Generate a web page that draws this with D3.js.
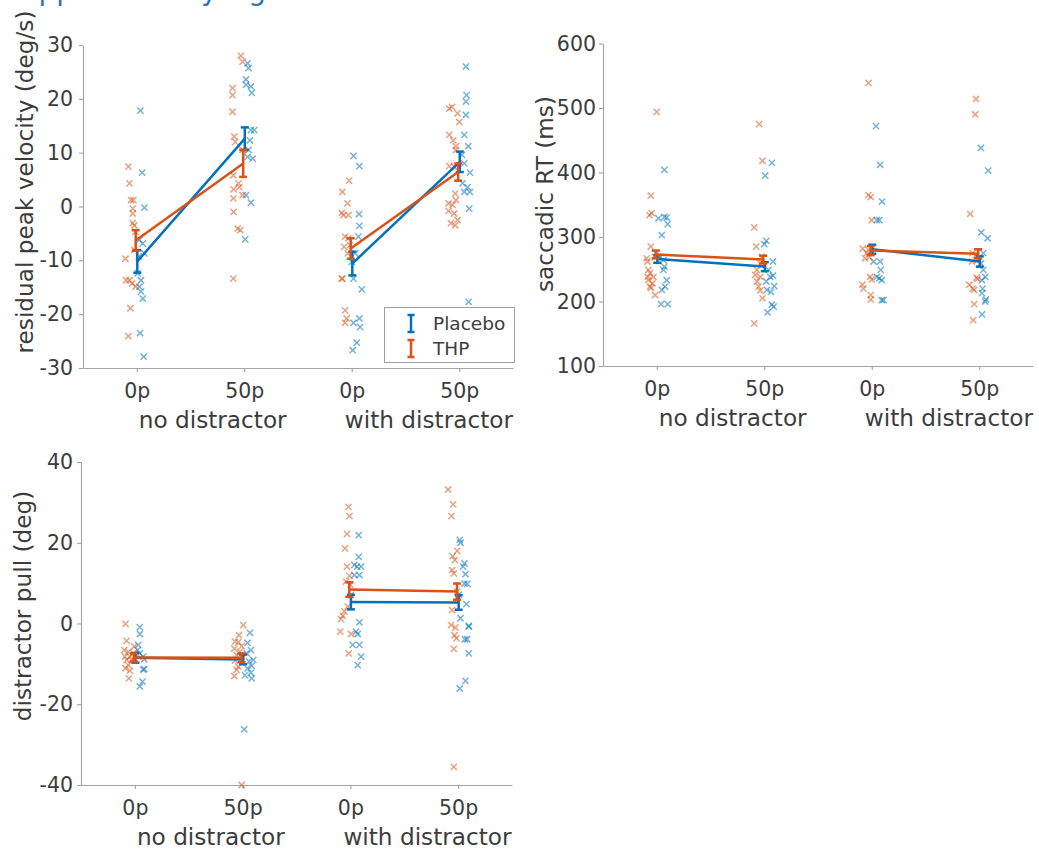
<!DOCTYPE html>
<html>
<head>
<meta charset="utf-8">
<script src="https://cdn.jsdelivr.net/npm/d3@7"></script>
<style>
  html, body { margin: 0; padding: 0; background: #fff; }
  svg { display: block; }
  text { font-family: "DejaVu Sans", sans-serif; }
</style>
</head>
<body>
<svg id="chart" width="1039" height="850"></svg>
<script>
// ---------- data ----------
const categories = ["0p", "50p", "0p", "50p"];
const groupLabels = ["no distractor", "with distractor"];
const seriesNames = ["Placebo", "THP"];
const seriesColors = ["#0072BD", "#D95319"];

// Panel 1: residual peak velocity (deg/s)
const pvTicks = [-30, -20, -10, 0, 10, 20, 30];
const pvPlaceboMean = [-10.2, 12.6, -10.6, 8.3];
const pvPlaceboErr = [2.1, 2.1, 2.2, 1.9];
const pvTHPMean = [-6.3, 8.0, -7.8, 6.4];
const pvTHPErr = [1.9, 2.5, 1.9, 1.6];
// points: [jitter offset (category units), value]
const pvPlaceboPts = [
  [[0.034,17.8],[0.050,6.3],[0.071,-0.2],[0.025,-6.2],[0.056,-6.9],[0.071,-8.7],[0.019,-9.3],[0.009,-12.4],[0.040,-13.7],[0.025,-14.9],[0.040,-15.8],[0.056,-17.1],[0.031,-23.5],[0.065,-27.9]],
  [[0.031,26.6],[0.040,25.7],[0.016,23.6],[0.016,22.6],[0.062,22.3],[0.071,21.1],[0.093,14.2],[0.062,14.2],[0.053,12.3],[0.040,10.5],[0.078,8.9],[0.031,9.2],[0.016,2.1],[0.062,0.7],[0.009,-6.1]],
  [[0.016,9.4],[0.071,7.5],[0.068,-1.4],[0.071,-3.6],[0.062,-5.6],[0.031,-8.7],[0.0,-10.3],[0.016,-13.4],[0.093,-15.4],[0.071,-20.8],[0.016,-21.6],[0.078,-22.4],[0.047,-25.3],[0.009,-26.7]],
  [[0.062,26.0],[0.068,20.7],[0.062,19.5],[0.062,17.0],[0.047,13.3],[0.084,11.2],[0.025,9.6],[0.047,8.0],[0.099,6.3],[0.031,4.3],[0.078,3.6],[0.047,2.7],[0.099,2.7],[0.093,-0.4],[0.087,-17.7]]
];
const pvTHPPts = [
  [[-0.078,7.4],[-0.068,4.3],[-0.053,1.2],[-0.031,1.2],[-0.037,-0.4],[-0.037,-1.3],[-0.037,-3.1],[-0.022,-3.5],[-0.012,-4.7],[-0.022,-8.1],[-0.105,-9.7],[-0.099,-13.7],[-0.068,-13.7],[-0.043,-14.3],[-0.012,-14.9],[-0.059,-18.9],[-0.078,-24.1]],
  [[-0.031,28.0],[-0.016,26.9],[-0.109,22.0],[-0.109,20.7],[-0.109,17.6],[-0.093,13.0],[-0.084,12.0],[-0.016,10.5],[-0.102,5.8],[-0.053,4.3],[-0.047,3.6],[-0.099,3.2],[-0.016,2.1],[-0.102,1.5],[-0.099,-1.0],[-0.062,-4.1],[-0.037,-4.4],[-0.102,-13.4]],
  [[-0.025,4.8],[-0.087,2.7],[-0.040,0.6],[-0.093,-1.2],[-0.078,-1.6],[-0.031,-1.6],[-0.062,-5.6],[-0.031,-5.9],[-0.071,-7.5],[-0.016,-7.2],[-0.037,-8.7],[-0.093,-13.4],[-0.087,-13.4],[-0.062,-19.3],[-0.047,-20.8],[-0.062,-21.6]],
  [[-0.093,18.2],[-0.068,18.5],[-0.016,17.3],[0.0,15.7],[-0.093,13.3],[-0.056,12.3],[-0.031,11.2],[-0.031,10.5],[-0.093,7.5],[-0.047,7.4],[-0.037,2.4],[-0.031,1.2],[-0.099,0.6],[-0.062,0.3],[-0.099,-0.8],[-0.047,-1.3],[-0.078,-3.1],[-0.037,-3.5],[-0.016,-2.5]]
];

// Panel 2: saccadic RT (ms)
const rtTicks = [100, 200, 300, 400, 500, 600];
const rtPlaceboMean = [266, 254, 281, 262];
const rtPlaceboErr = [6, 7, 7, 8];
const rtTHPMean = [273, 265, 279, 274];
const rtTHPErr = [6, 6, 7, 7];
const rtPlaceboPts = [
  [[0.071,404],[0.016,329],[0.071,331],[0.093,330],[0.102,320],[0.047,303],[0.031,269],[0.062,264],[0.071,254],[0.062,249],[0.093,233],[0.078,223],[0.047,218],[0.040,196],[0.102,196]],
  [[0.071,415],[0.009,395],[0.019,294],[0.0,289],[0.081,262],[0.040,249],[0.081,240],[0.056,238],[0.019,231],[0.093,224],[0.025,218],[0.062,215],[0.071,195],[0.087,192],[0.031,183]],
  [[0.040,472],[0.078,412],[0.096,355],[0.047,326],[0.071,326],[0.016,262],[0.078,262],[0.084,249],[0.047,238],[0.071,236],[0.093,233],[0.093,202],[0.109,202]],
  [[0.016,438],[0.084,403],[0.019,307],[0.078,298],[0.037,275],[0.016,259],[0.037,249],[0.056,238],[0.025,233],[0.031,220],[0.025,213],[0.056,200],[0.062,203],[0.025,180]]
];
const rtTHPPts = [
  [[0.0,494],[-0.056,364],[-0.068,334],[-0.047,337],[-0.056,285],[-0.093,267],[-0.087,262],[-0.078,249],[-0.062,244],[-0.031,238],[-0.078,233],[-0.040,228],[-0.062,223],[-0.016,210],[0.0,275],[-0.016,269],[-0.084,238],[-0.053,221]],
  [[-0.047,475],[-0.016,418],[-0.093,315],[-0.074,285],[-0.022,269],[-0.037,259],[-0.068,249],[-0.084,241],[-0.037,238],[-0.068,231],[-0.053,223],[-0.037,217],[-0.016,205],[-0.093,166]],
  [[-0.031,539],[-0.031,365],[-0.009,362],[0.0,326],[-0.084,282],[-0.047,275],[-0.022,269],[-0.062,267],[-0.031,280],[-0.016,238],[0.0,234],[-0.087,226],[-0.078,220],[-0.009,210],[-0.009,203]],
  [[-0.031,514],[-0.037,490],[-0.084,336],[-0.062,275],[-0.031,272],[-0.016,264],[-0.068,262],[-0.025,237],[-0.016,235],[-0.093,226],[-0.062,220],[-0.047,218],[-0.047,196],[-0.056,171]]
];

// Panel 3: distractor pull (deg)
const dpTicks = [-40, -20, 0, 20, 40];
const dpPlaceboMean = [-8.5, -8.9, 5.3, 5.2];
const dpPlaceboErr = [1.2, 1.2, 1.8, 1.8];
const dpTHPMean = [-8.4, -8.5, 8.4, 7.9];
const dpTHPErr = [1.0, 1.1, 1.8, 2.0];
const dpPlaceboPts = [
  [[0.046,-0.9],[0.046,-2.6],[0.031,-5.3],[0.025,-6.6],[0.046,-7.4],[0.077,-8.2],[0.087,-8.9],[0.077,-11.4],[0.087,-11.3],[0.071,-14.4],[0.046,-15.6]],
  [[0.068,-2.3],[0.046,-4.8],[0.077,-6.6],[0.037,-7.4],[0.099,-9.0],[0.059,-9.4],[0.084,-10.5],[0.046,-11.1],[0.077,-12.2],[0.022,-12.8],[0.084,-13.6],[0.015,-26.2]],
  [[0.077,21.9],[0.077,16.5],[0.037,14.5],[0.099,14.1],[0.062,14.1],[0.084,12.0],[0.037,12.0],[0.006,7.1],[0.084,0.3],[0.053,-2.0],[0.068,-2.6],[0.022,-5.3],[0.084,-5.3],[0.099,-8.2],[0.068,-10.3]],
  [[0.015,20.7],[0.022,20.0],[0.059,14.9],[0.046,14.1],[0.068,12.2],[0.059,9.9],[0.084,9.8],[0.006,7.1],[0.077,4.8],[0.022,1.3],[0.099,-0.8],[0.099,-0.6],[0.062,-3.9],[0.084,-3.9],[0.099,-7.4],[0.068,-14.2],[0.015,-16.1]]
];
const dpTHPPts = [
  [[-0.087,-0.1],[-0.077,-4.3],[-0.099,-6.6],[-0.062,-7.0],[-0.093,-8.2],[-0.046,-8.2],[-0.077,-9.0],[-0.031,-9.0],[-0.062,-10.3],[-0.087,-11.1],[-0.046,-11.7],[-0.056,-13.6],[-0.015,-7.4],[-0.006,-5.7]],
  [[0.006,-0.4],[-0.034,-2.9],[-0.071,-4.5],[-0.040,-4.6],[-0.009,-5.6],[-0.077,-6.2],[-0.025,-7.0],[-0.056,-7.8],[-0.009,-8.2],[-0.071,-9.2],[-0.040,-10.7],[-0.056,-11.5],[-0.077,-13.0],[-0.009,-40.0]],
  [[-0.019,28.9],[-0.009,26.6],[-0.031,22.2],[-0.050,18.6],[-0.031,14.1],[-0.009,11.8],[-0.040,10.4],[0.0,9.6],[-0.025,4.2],[-0.056,3.0],[-0.071,1.9],[-0.087,1.1],[-0.093,-2.0],[0.006,-2.6],[-0.015,-7.4]],
  [[-0.093,33.2],[-0.046,29.5],[-0.062,26.6],[-0.009,18.0],[-0.050,16.7],[-0.031,15.7],[-0.056,13.2],[-0.040,12.4],[-0.009,7.9],[-0.056,3.3],[-0.065,-0.4],[-0.025,-1.0],[-0.034,-2.9],[-0.015,-3.7],[-0.040,-6.3],[-0.040,-35.5]]
];

// ---------- drawing ----------
const svg = d3.select("#chart");
const AXIS_COLOR = "#a3a3a3";
const TEXT_COLOR = "#3c3c3c";
const TICK_FONT = 20.5, LABEL_FONT = 23.2, LEGEND_FONT = 18.5;

// title at the very top (clipped by the page edge in the reference)
svg.append("text").attr("x", 3).attr("y", 0)
  .attr("font-size", 28).attr("fill", "#2e74b5")
  .text("Supplementary Figure");

function drawPanel(cfg) {
  const x = d3.scaleLinear().domain([0.5, 4.5]).range([cfg.x0, cfg.x1]);
  const y = d3.scaleLinear().domain(cfg.yDomain).range([cfg.yBottom, cfg.yTop]);
  const g = svg.append("g");

  const ya = g.append("g").attr("transform", `translate(${cfg.x0},0)`)
    .call(d3.axisLeft(y).tickValues(cfg.ticks).tickFormat(d => String(d))
      .tickSize(4).tickSizeOuter(0).tickPadding(cfg.yPad));
  const xa = g.append("g").attr("transform", `translate(0,${cfg.yBottom})`)
    .call(d3.axisBottom(x).tickValues([1, 2, 3, 4]).tickFormat((d, i) => categories[i])
      .tickSize(4).tickSizeOuter(0).tickPadding(11.5));
  [ya, xa].forEach(a => {
    a.select(".domain").attr("stroke", AXIS_COLOR).attr("stroke-width", 1.1);
    a.selectAll(".tick line").attr("stroke", AXIS_COLOR).attr("stroke-width", 1.1);
    a.selectAll(".tick text").attr("fill", TEXT_COLOR).attr("font-size", TICK_FONT)
      .attr("font-family", "DejaVu Sans");
  });

  g.append("text").attr("x", x(1) + 2).attr("y", cfg.yBottom + 60)
    .attr("font-size", LABEL_FONT).attr("fill", TEXT_COLOR).text(groupLabels[0]);
  g.append("text").attr("x", x(3) - 7).attr("y", cfg.yBottom + 60)
    .attr("font-size", LABEL_FONT).attr("fill", TEXT_COLOR).text(groupLabels[1]);

  g.append("text")
    .attr("transform", `translate(${cfg.x0 - 50},${cfg.labelY}) rotate(-90)`)
    .attr("text-anchor", "middle").attr("font-size", LABEL_FONT).attr("fill", TEXT_COLOR)
    .text(cfg.label);

  const series = [
    { pts: cfg.placeboPts, color: seriesColors[0] },
    { pts: cfg.thpPts, color: seriesColors[1] }
  ];
  const s = 3.1;
  series.forEach(se => {
    se.pts.forEach((cond, ci) => {
      cond.forEach(p => {
        const cx = x(ci + 1 + p[0]), cy = y(p[1]);
        g.append("path")
          .attr("d", `M${cx - s},${cy - s}L${cx + s},${cy + s}M${cx - s},${cy + s}L${cx + s},${cy - s}`)
          .attr("stroke", se.color).attr("stroke-width", 1.5).attr("stroke-opacity", 0.55)
          .attr("fill", "none");
      });
    });
  });

  const lines = [
    { mean: cfg.placeboMean, err: cfg.placeboErr, color: seriesColors[0], off: 0.005 },
    { mean: cfg.thpMean, err: cfg.thpErr, color: seriesColors[1], off: -0.01 }
  ];
  lines.forEach(L => {
    [[0, 1], [2, 3]].forEach(pr => {
      g.append("path")
        .datum(pr.map(i => L.mean[i]))
        .attr("d", d3.line().x((d, k) => x(pr[k] + 1 + L.off)).y(d => y(d)))
        .attr("stroke", L.color).attr("stroke-width", 2.5).attr("fill", "none");
    });
    L.mean.forEach((m, i) => {
      const cx = x(i + 1 + L.off);
      const y1 = y(m - L.err[i]), y2 = y(m + L.err[i]);
      g.append("line").attr("x1", cx).attr("x2", cx).attr("y1", y1).attr("y2", y2)
        .attr("stroke", L.color).attr("stroke-width", 2.5);
      [y1, y2].forEach(yy => g.append("line").attr("x1", cx - 4).attr("x2", cx + 4)
        .attr("y1", yy).attr("y2", yy).attr("stroke", L.color).attr("stroke-width", 2.5));
    });
  });
}

drawPanel({
  x0: 83, x1: 513, yTop: 45, yBottom: 368, yDomain: [-30, 30], ticks: pvTicks, yPad: 6,
  label: "residual peak velocity (deg/s)", labelY: 182,
  placeboMean: pvPlaceboMean, placeboErr: pvPlaceboErr, thpMean: pvTHPMean, thpErr: pvTHPErr,
  placeboPts: pvPlaceboPts, thpPts: pvTHPPts
});
drawPanel({
  x0: 603, x1: 1033, yTop: 43.5, yBottom: 366, yDomain: [100, 600], ticks: rtTicks, yPad: 3,
  label: "saccadic RT (ms)", labelY: 194,
  placeboMean: rtPlaceboMean, placeboErr: rtPlaceboErr, thpMean: rtTHPMean, thpErr: rtTHPErr,
  placeboPts: rtPlaceboPts, thpPts: rtTHPPts
});
drawPanel({
  x0: 81, x1: 512, yTop: 462, yBottom: 785, yDomain: [-40, 40], ticks: dpTicks, yPad: 4,
  label: "distractor pull (deg)", labelY: 606,
  placeboMean: dpPlaceboMean, placeboErr: dpPlaceboErr, thpMean: dpTHPMean, thpErr: dpTHPErr,
  placeboPts: dpPlaceboPts, thpPts: dpTHPPts
});

// legend in panel 1
const lg = svg.append("g");
lg.append("rect").attr("x", 384.5).attr("y", 307.5).attr("width", 130).attr("height", 55)
  .attr("fill", "#fff").attr("stroke", "#a0a0a0").attr("stroke-width", 1);
seriesNames.forEach((name, i) => {
  const cy = 323.5 + i * 25;
  const cx = 411;
  const c = seriesColors[i];
  lg.append("line").attr("x1", cx).attr("x2", cx).attr("y1", cy - 8.5).attr("y2", cy + 8.5)
    .attr("stroke", c).attr("stroke-width", 2.5);
  [cy - 8.5, cy + 8.5].forEach(yy => lg.append("line").attr("x1", cx - 3.5).attr("x2", cx + 3.5)
    .attr("y1", yy).attr("y2", yy).attr("stroke", c).attr("stroke-width", 2.5));
  lg.append("text").attr("x", 433).attr("y", cy + 6.5).attr("font-size", LEGEND_FONT)
    .attr("fill", TEXT_COLOR).text(name);
});
</script>
</body>
</html>
